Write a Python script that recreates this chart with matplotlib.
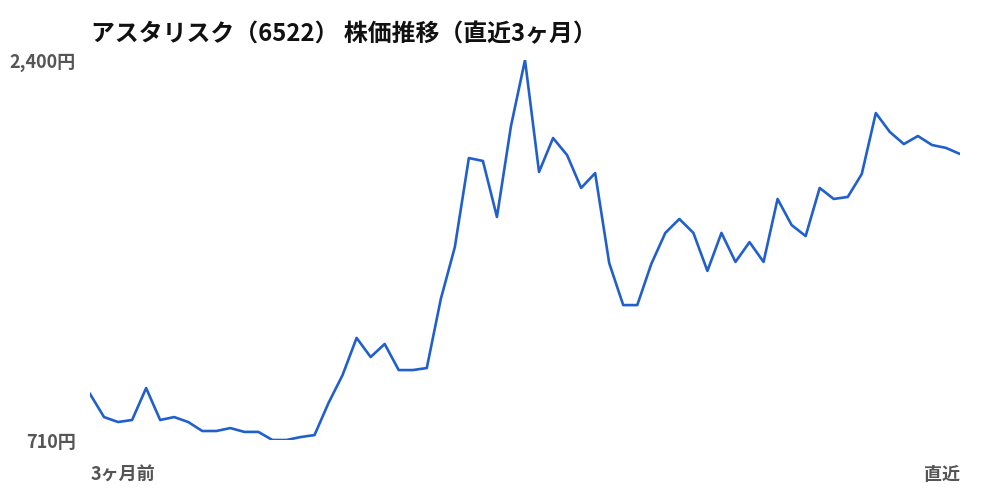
import matplotlib
matplotlib.use("Agg")
import matplotlib.pyplot as plt

plt.rcParams['font.family'] = ['Noto Sans CJK JP', 'DejaVu Sans']

# 株価（円）, 3ヶ月前 -> 直近
prices = [915, 812, 790, 799, 941, 799, 812, 790, 750, 750,
          763, 746, 746, 710, 710, 723, 732, 875, 999, 1164,
          1079, 1137, 1021, 1021, 1030, 1337, 1568, 1964, 1951, 1702,
          2106, 2400, 1902, 2053, 1977, 1831, 1897, 1497, 1310, 1310,
          1493, 1631, 1693, 1631, 1462, 1631, 1502, 1590, 1502, 1782,
          1666, 1617, 1831, 1782, 1791, 1893, 2164, 2080, 2026, 2062,
          2022, 2009, 1982]
title = "アスタリスク（6522） 株価推移（直近3ヶ月）"
x_labels = ["3ヶ月前", "直近"]

y_max = max(prices)
y_min = min(prices)

fig = plt.figure(figsize=(10, 5), dpi=100)
ax = fig.add_axes([0.09, 0.12, 0.87, 0.76])
ax.plot(range(len(prices)), prices, color='#2160cc', linewidth=1.9)
ax.set_xlim(0, len(prices) - 1)
ax.set_ylim(y_min, y_max)
ax.axis('off')

fig.text(0.091, 0.932, title, fontsize=17.2, fontweight='bold', color='#111111',
         ha='left', va='center')
fig.text(0.076, 0.876, f"{y_max:,}円", fontsize=13, fontweight='bold',
         color='#555555', ha='right', va='center')
fig.text(0.076, 0.116, f"{y_min:,}円", fontsize=13, fontweight='bold',
         color='#555555', ha='right', va='center')
fig.text(0.091, 0.050, x_labels[0], fontsize=13, fontweight='bold',
         color='#555555', ha='left', va='center')
fig.text(0.960, 0.050, x_labels[1], fontsize=13, fontweight='bold',
         color='#555555', ha='right', va='center')

fig.savefig('out.png', dpi=100, facecolor='white')
